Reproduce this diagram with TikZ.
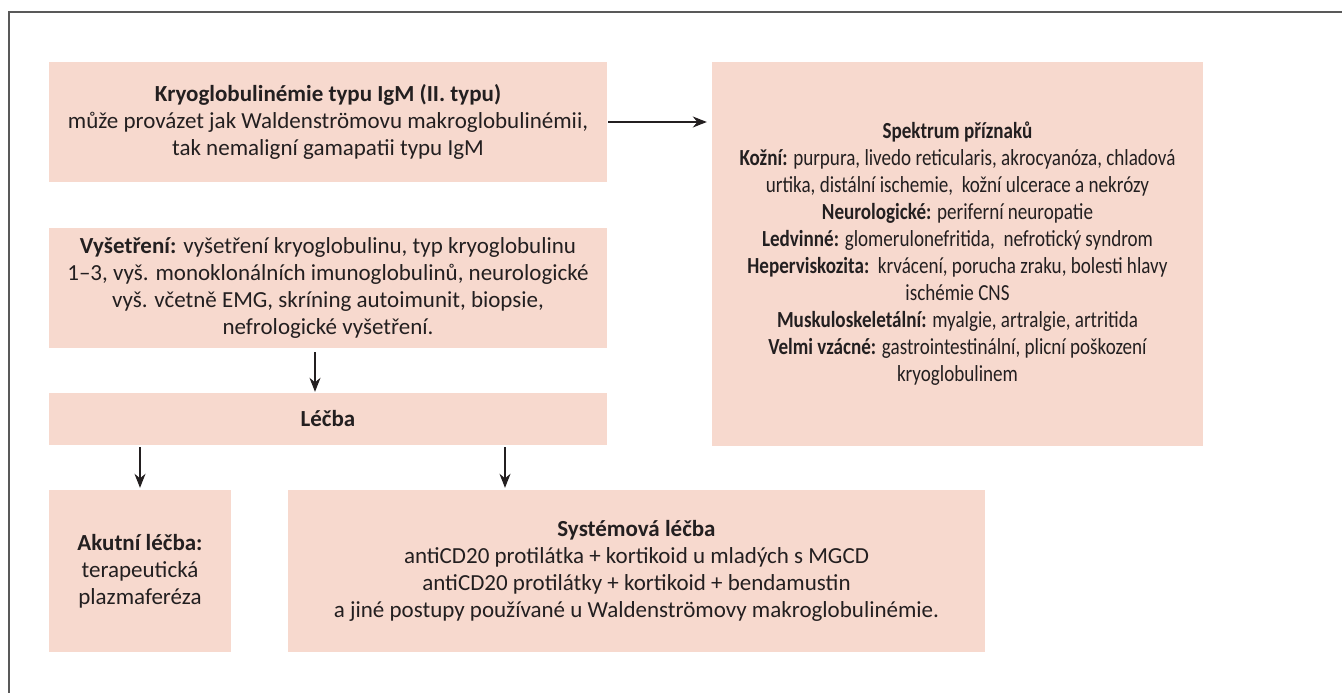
\documentclass[tikz,border=0pt]{standalone}
\usepackage{fontspec}
\setmainfont{Carlito}
\newfontfamily\narrowfont[FakeStretch=0.83]{Carlito}
\usetikzlibrary{arrows.meta}
\definecolor{boxpink}{RGB}{247,217,206}
\definecolor{inkgray}{RGB}{35,31,32}

\begin{document}
\begin{tikzpicture}[x=1pt, y=-1pt,
        every node/.style={font=\fontsize{23}{27}\selectfont, text=inkgray},
        box/.style={fill=boxpink, inner sep=0pt, align=center},
        arr/.style={draw=inkgray, line width=1.2pt, -{Stealth[length=14pt,width=11pt,inset=4.5pt]}}]
        \useasboundingbox (0,0) rectangle (1342,693);
        \draw [line width=1.6pt, draw=black!65] (9,693) -- (9,12) -- (1342,12);
        \node [box, minimum width=558pt, minimum height=120pt] (kryo) at (328,122) {\textbf{Kryoglobulinémie typu IgM (II. typu)}\\ může provázet jak Waldenströmovu makroglobulinémii,\\ tak nemaligní gamapatii typu IgM};
        \node [box, minimum width=558pt, minimum height=120pt] (vys) at (328,288) {\textbf{Vyšetření:} vyšetření kryoglobulinu, typ kryoglobulinu\\ 1–3, vyš. monoklonálních imunoglobulinů, neurologické\\ vyš. včetně EMG, skríning autoimunit, biopsie,\\ nefrologické vyšetření.};
        \node [box, minimum width=558pt, minimum height=52pt] (lecba) at (328,419) {\textbf{Léčba}};
        \node [box, minimum width=182pt, minimum height=162pt] (akut) at (140,571) {\textbf{Akutní léčba:}\\ terapeutická\\ plazmaferéza};
        \node [box, minimum width=697pt, minimum height=162pt] (sys) at (636.5,571) {\textbf{Systémová léčba}\\ antiCD20 protilátka + kortikoid u mladých s MGCD\\ antiCD20 protilátky + kortikoid + bendamustin\\ a jiné postupy používané u Waldenströmovy makroglobulinémie.};
        \node [box, minimum width=491pt, minimum height=384pt, font=\narrowfont\fontsize{23}{27}\selectfont] (spek) at (957.5,254) {\textbf{Spektrum příznaků}\\ \textbf{Kožní:} purpura, livedo reticularis, akrocyanóza, chladová\\ urtika, distální ischemie,\ \ kožní ulcerace a nekrózy\\ \textbf{Neurologické:} periferní neuropatie\\ \textbf{Ledvinné:} glomerulonefritida,\ \ nefrotický syndrom\\ \textbf{Heperviskozita:}\ \ krvácení, porucha zraku, bolesti hlavy\\ ischémie CNS\\ \textbf{Muskuloskeletální:} myalgie, artralgie, artritida\\ \textbf{Velmi vzácné:} gastrointestinální, plicní poškození\\ kryoglobulinem};
        \draw [arr, shorten <=1pt, shorten >=5pt] (kryo.east) -- (kryo.east -| spek.west);
        \draw [arr, shorten <=4pt, shorten >=1pt] ([xshift=-13pt]vys.south) -- ([xshift=-13pt]lecba.north);
        \draw [arr, shorten <=2pt, shorten >=2pt] (akut.north |- lecba.south) -- (akut.north);
        \draw [arr, shorten <=2pt, shorten >=2pt] ([xshift=177pt]lecba.south) -- ([xshift=-131.5pt]sys.north);
    \end{tikzpicture}
\end{document}
